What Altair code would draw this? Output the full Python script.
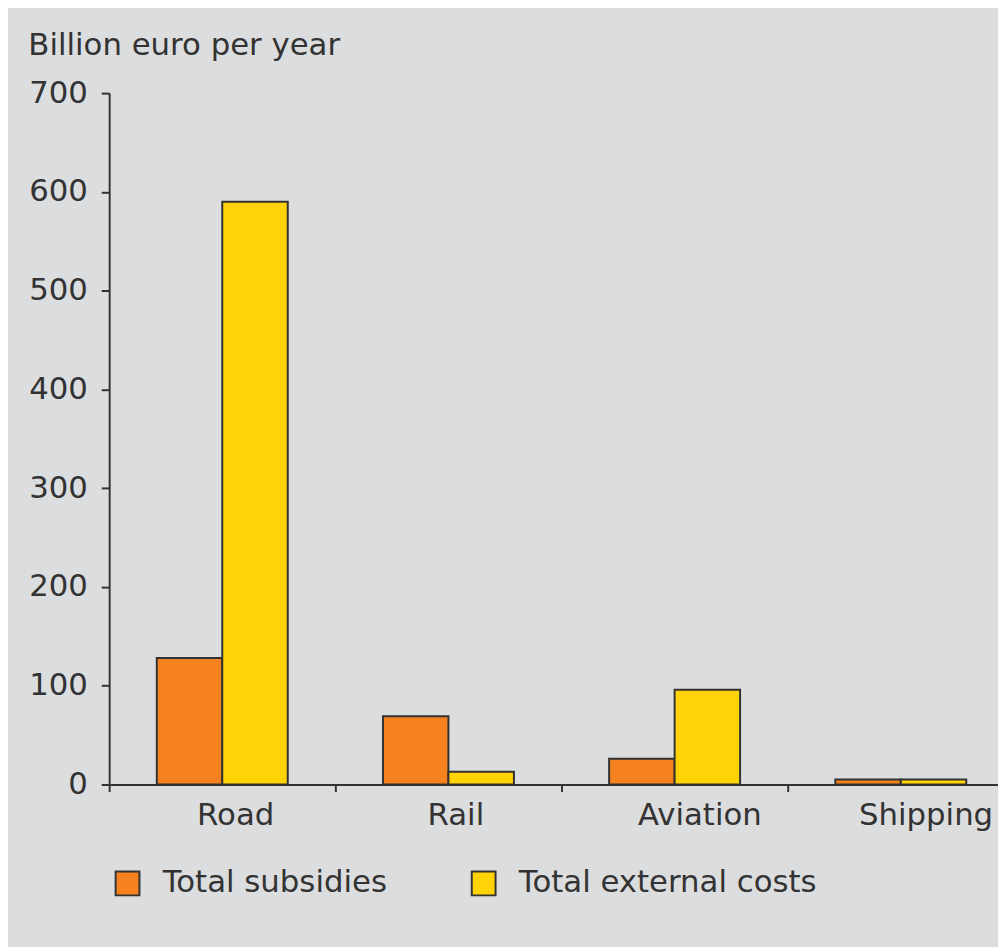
import altair as alt
import pandas as pd

categories = ["Road", "Rail", "Aviation", "Shipping"]
series = ["Total subsidies", "Total external costs"]
subsidies = [128, 69, 26, 5]
external_costs = [590, 13, 96, 5]
y_ticks = [0, 100, 200, 300, 400, 500, 600, 700]
colors = ["#F5821F", "#FFD306"]

rows = []
for i, c in enumerate(categories):
    rows.append({"mode": c, "series": series[0], "value": subsidies[i]})
    rows.append({"mode": c, "series": series[1], "value": external_costs[i]})
df = pd.DataFrame(rows)

FONT = "DejaVu Sans"
TXT = "#333333"
BG = "#dcdddf"
FS = 31

label_offset = {
    "condition": [
        {"test": "datum.value == 'Road'", "value": 13},
        {"test": "datum.value == 'Rail'", "value": 7},
    ],
    "value": 25,
}

chart = (
    alt.Chart(df)
    .mark_bar(stroke="#333333", strokeWidth=2)
    .encode(
        x=alt.X(
            "mode:N",
            sort=categories,
            scale=alt.Scale(paddingInner=0, paddingOuter=0, range=[0, 912]),
            axis=alt.Axis(
                title=None,
                labelAngle=0,
                tickBand="extent",
                labelOffset=label_offset,
                labelPadding=9,
                tickSize=7,
                tickWidth=2,
                domainWidth=2,
                domainColor="#333333",
                tickColor="#333333",
                labelFont=FONT,
                labelFontSize=FS,
                labelColor=TXT,
            ),
        ),
        xOffset=alt.XOffset(
            "series:N",
            sort=series,
            scale=alt.Scale(paddingInner=0, paddingOuter=0.727),
        ),
        y=alt.Y(
            "value:Q",
            scale=alt.Scale(domain=[0, 700], nice=False),
            axis=alt.Axis(
                values=y_ticks,
                grid=False,
                title="Billion euro per year",
                titleAngle=0,
                titleAlign="left",
                titleBaseline="alphabetic",
                titleX=-82,
                titleY=-39,
                titleFont=FONT,
                titleFontSize=FS,
                titleFontWeight="normal",
                titleColor=TXT,
                labelFont=FONT,
                labelFontSize=FS,
                labelColor=TXT,
                labelPadding=14,
                tickSize=8,
                tickWidth=2,
                domainWidth=2,
                domainColor="#333333",
                tickColor="#333333",
            ),
        ),
        color=alt.Color(
            "series:N",
            sort=series,
            scale=alt.Scale(domain=series, range=colors),
            legend=alt.Legend(
                title=None,
                orient="none",
                direction="horizontal",
                legendX=3,
                legendY=781,
                padding=0,
                symbolType="square",
                symbolSize=576,
                symbolStrokeColor="#333333",
                symbolStrokeWidth=2,
                labelFont=FONT,
                labelFontSize=FS,
                labelColor=TXT,
                labelLimit=0,
                labelOffset=20,
                columnPadding=80,
            ),
        ),
    )
    .properties(
        width=896,
        height=697,
        background=BG,
        padding={"left": 102, "top": 82, "right": 0, "bottom": 160},
        autosize=alt.AutoSizeParams(type="none"),
    )
    .configure_view(stroke=None)
)

chart.save("out.html", embed_options={"renderer": "svg", "actions": False})
